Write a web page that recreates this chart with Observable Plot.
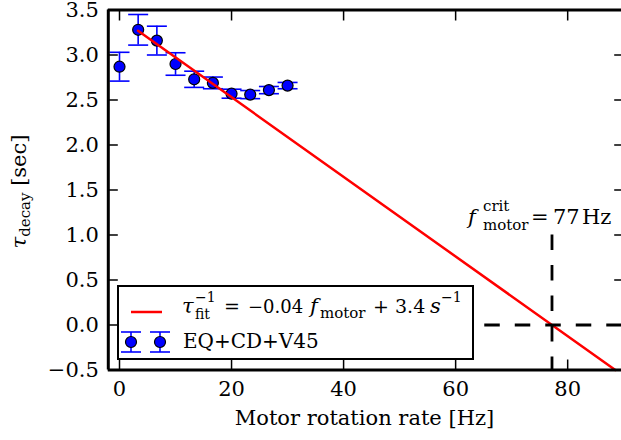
<!DOCTYPE html>
<html><head><meta charset="utf-8">
<script src="https://cdn.jsdelivr.net/npm/d3@7"></script>
<script src="https://cdn.jsdelivr.net/npm/@observablehq/plot@0.6"></script>
<style>body{margin:0;background:#fff} svg{display:block}</style>
</head><body><div id="chart"></div>
<script>
// ---- data ----
const rate   = [0, 3.33, 6.67, 10, 13.33, 16.67, 20, 23.33, 26.67, 30];
const tau    = [2.87, 3.28, 3.16, 2.90, 2.73, 2.69, 2.57, 2.56, 2.61, 2.66];
const tauErr = [0.16, 0.17, 0.16, 0.125, 0.09, 0.065, 0.05, 0.045, 0.04, 0.035];
const fitRate = [3.3, 88.5];
const fitTau  = [3.27, -0.5];
const critRate = 77.2;
const critTop = 1.0;
const zeroLineStart = 65.2;
const xTicks = [0, 20, 40, 60, 80];
const yTicks = [-0.5, 0, 0.5, 1.0, 1.5, 2.0, 2.5, 3.0, 3.5];
const xDomain = [-2, 90];
const yDomain = [-0.5, 3.5];

const data = rate.map((r, i) => ({rate: r, tau: tau[i], lo: tau[i] - tauErr[i], hi: tau[i] + tauErr[i]}));
const fit = fitRate.map((r, i) => ({rate: r, tau: fitTau[i]}));

const BLUE = "#0000ff", RED = "#ff0000";
const FONT = "DejaVu Serif";
const capSymbol = {draw(ctx, size) { const r = Math.sqrt(size / Math.PI); ctx.moveTo(-r, 0); ctx.lineTo(r, 0); }};
const fmtY = d => d.toFixed(1).replace("-", "\u2212");

const plot = Plot.plot({
  width: 621, height: 440,
  marginLeft: 107.8, marginRight: -2.2, marginTop: 9.5, marginBottom: 70.5,
  style: {fontFamily: FONT, fontSize: "21px", color: "black", background: "white", overflow: "hidden"},
  x: {domain: xDomain, label: null},
  y: {domain: yDomain, label: null},
  marks: [
    // error bars
    Plot.ruleX(data, {x: "rate", y1: "lo", y2: "hi", stroke: BLUE, strokeWidth: 1.6}),
    Plot.dot(data, {x: "rate", y: "lo", symbol: capSymbol, r: 10, stroke: BLUE, strokeWidth: 1.6, fill: "none"}),
    Plot.dot(data, {x: "rate", y: "hi", symbol: capSymbol, r: 10, stroke: BLUE, strokeWidth: 1.6, fill: "none"}),
    Plot.dot(data, {x: "rate", y: "tau", r: 5.5, fill: BLUE, stroke: "black", strokeWidth: 1.2}),
    // fit line
    Plot.line(fit, {x: "rate", y: "tau", stroke: RED, strokeWidth: 2.5}),
    // critical dashed lines
    Plot.ruleX([critRate], {y1: critTop, y2: yDomain[0], stroke: "black", strokeWidth: 2.8, strokeDasharray: "15.5,15"}),
    Plot.ruleY([0], {x1: zeroLineStart, x2: xDomain[1], stroke: "black", strokeWidth: 2.8, strokeDasharray: "15.5,15"}),
    // tick labels
    Plot.axisX(xTicks, {anchor: "bottom", tickSize: 0, tickPadding: 11.5, label: null, tickFormat: d => String(d)}),
    Plot.axisY(yTicks, {anchor: "left", tickSize: 0, tickPadding: 9.5, label: null, tickFormat: fmtY}),
    // inward ticks on all four sides
    Plot.axisX(xTicks, {anchor: "bottom", tickSize: 10, insetBottom: 10, tickFormat: () => "", label: null, strokeWidth: 1.5}),
    Plot.axisX(xTicks, {anchor: "top", tickSize: 10, insetTop: 10, tickFormat: () => "", label: null, strokeWidth: 1.5}),
    Plot.axisY(yTicks, {anchor: "left", tickSize: 10, insetLeft: 10, tickFormat: () => "", label: null, strokeWidth: 1.5}),
    Plot.axisY(yTicks, {anchor: "right", tickSize: 10, insetRight: 10, tickFormat: () => "", label: null, strokeWidth: 1.5}),
    // spines
    Plot.ruleX([xDomain[0], xDomain[1]], {stroke: "black", strokeWidth: 3}),
    Plot.ruleY([yDomain[0], yDomain[1]], {x1: xDomain[0], x2: xDomain[1], stroke: "black", strokeWidth: 3})
  ]
});

const svg = d3.select(plot);
const T = (sel, x, y, txt, size, opts = {}) => {
  const t = sel.append("text").attr("x", x).attr("y", y).attr("font-family", FONT)
    .attr("font-size", size).attr("fill", "black").attr("text-anchor", opts.anchor || "start").text(txt);
  if (opts.italic) t.attr("font-style", "italic");
  return t;
};

// x-axis title
T(svg, 364.5, 425, "Motor rotation rate [Hz]", 21, {anchor: "middle"});

// y-axis title (rotated)
const yl = svg.append("text").attr("transform", "translate(26,191.5) rotate(-90)")
  .attr("text-anchor", "middle").attr("font-family", FONT).attr("font-size", 21).attr("fill", "black");
yl.append("tspan").attr("font-style", "italic").text("\u03c4");
yl.append("tspan").attr("font-size", 15).attr("dy", 4).text("decay");
yl.append("tspan").attr("dy", -4).text("\u00a0[sec]");

// annotation of critical rate
const ann = svg.append("g");
T(ann, 468, 224, "f", 21, {italic: true});
T(ann, 483, 211, "crit", 15);
T(ann, 483, 230, "motor", 15);
T(ann, 531, 224, "=", 21);
T(ann, 553, 224, "77", 21);
T(ann, 582, 224, "Hz", 21);

// legend
const lg = svg.append("g");
lg.append("rect").attr("x", 118).attr("y", 286).attr("width", 355).attr("height", 73)
  .attr("fill", "white").attr("stroke", "black").attr("stroke-width", 2);
lg.append("line").attr("x1", 131).attr("x2", 162).attr("y1", 312).attr("y2", 312)
  .attr("stroke", RED).attr("stroke-width", 2.5);
T(lg, 182, 313, "\u03c4", 21, {italic: true});
T(lg, 195, 302, "\u22121", 14);
T(lg, 195, 319, "fit", 14);
T(lg, 224, 313, "=", 19);
T(lg, 248, 313, "\u22120.04", 18);
T(lg, 310, 313, "f", 21, {italic: true});
T(lg, 320, 318, "motor", 15);
T(lg, 373, 313, "+", 19);
T(lg, 395, 313, "3.4", 19);
T(lg, 430, 313, "s", 21, {italic: true});
T(lg, 441, 302, "\u22121", 14);
for (const cx of [131, 160]) {
  lg.append("line").attr("x1", cx).attr("x2", cx).attr("y1", 332).attr("y2", 352).attr("stroke", BLUE).attr("stroke-width", 1.6);
  lg.append("line").attr("x1", cx - 10).attr("x2", cx + 10).attr("y1", 332).attr("y2", 332).attr("stroke", BLUE).attr("stroke-width", 1.6);
  lg.append("line").attr("x1", cx - 10).attr("x2", cx + 10).attr("y1", 352).attr("y2", 352).attr("stroke", BLUE).attr("stroke-width", 1.6);
  lg.append("circle").attr("cx", cx).attr("cy", 342).attr("r", 5.5).attr("fill", BLUE).attr("stroke", "black").attr("stroke-width", 1.2);
}
T(lg, 183, 348, "EQ+CD+V45", 20);

document.getElementById("chart").appendChild(plot);
</script>
</body></html>
